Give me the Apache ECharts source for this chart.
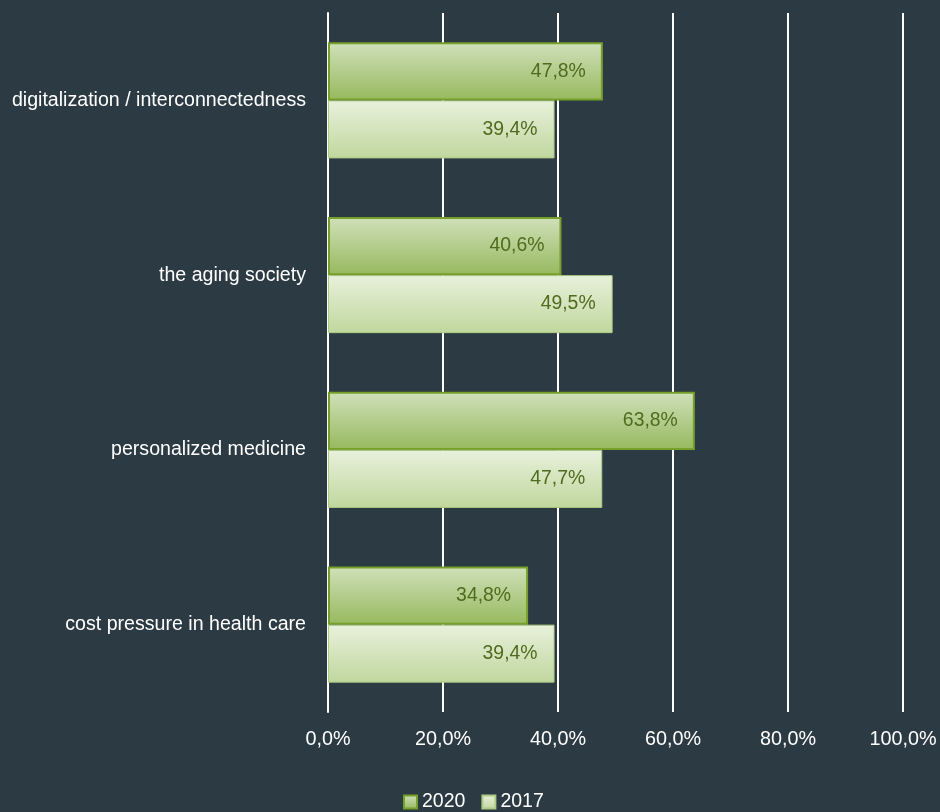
<!DOCTYPE html>
<html><head><meta charset="utf-8">
<script src="https://cdn.jsdelivr.net/npm/echarts@6/dist/echarts.min.js"></script>
<style>html,body{margin:0;padding:0;background:#2c3a43;}#c{width:940px;height:812px;}</style>
</head><body><div id="c"></div>
<script>
const categories = ["digitalization / interconnectedness", "the aging society", "personalized medicine", "cost pressure in health care"];
const values2020 = [47.8, 40.6, 63.8, 34.8];
const values2017 = [39.4, 49.5, 47.7, 39.4];
const seriesNames = ["2020", "2017"];
const xTicks = { min: 0, max: 100, interval: 20 };

const FONT = '"Liberation Sans", Arial, sans-serif';
const fmt = v => v.toFixed(1).replace('.', ',') + '%';

const chart = echarts.init(document.getElementById('c'));
chart.setOption({
  backgroundColor: '#2c3a43',
  animation: false,
  grid: { left: 328, right: 37, top: 13, bottom: 100, containLabel: false },
  legend: {
    data: seriesNames, top: 792, left: 403, icon: 'rect', padding: 0,
    itemWidth: 13, itemHeight: 13, itemGap: 16,
    textStyle: { color: '#ffffff', fontSize: 19.5, fontFamily: FONT }
  },
  xAxis: {
    type: 'value', min: xTicks.min, max: xTicks.max, interval: xTicks.interval,
    axisLine: { show: false }, axisTick: { show: false },
    splitLine: { show: true, lineStyle: { color: '#ffffff', width: 2 } },
    axisLabel: { color: '#ffffff', fontSize: 19.8, fontFamily: FONT, margin: 18, formatter: fmt }
  },
  yAxis: {
    type: 'category', data: categories, inverse: true,
    axisLine: { show: true, lineStyle: { color: '#ffffff', width: 2 } },
    axisTick: { show: false },
    axisLabel: { color: '#ffffff', fontSize: 19.6, fontFamily: FONT, margin: 22 }
  },
  series: [
    {
      name: seriesNames[0], type: 'bar', data: values2020, barCategoryGap: '33.6%', barGap: '0%',
      itemStyle: {
        color: new echarts.graphic.LinearGradient(0, 0, 0, 1, [
          { offset: 0, color: '#d0e0ba' }, { offset: 1, color: '#97b95e' }]),
        borderColor: '#76a02a', borderWidth: 2
      },
      label: { show: true, position: 'insideRight', distance: 17, color: '#4f6b1e', fontSize: 19.4, fontFamily: FONT, formatter: p => fmt(p.value) }
    },
    {
      name: seriesNames[1], type: 'bar', data: values2017, barCategoryGap: '33.6%', barGap: '0%',
      itemStyle: {
        color: new echarts.graphic.LinearGradient(0, 0, 0, 1, [
          { offset: 0, color: '#e8f1dc' }, { offset: 1, color: '#c0d79d' }]),
        borderColor: '#aecb85', borderWidth: 1
      },
      label: { show: true, position: 'insideRight', distance: 17, color: '#4f6b1e', fontSize: 19.4, fontFamily: FONT, formatter: p => fmt(p.value) }
    }
  ]
});
</script></body></html>
